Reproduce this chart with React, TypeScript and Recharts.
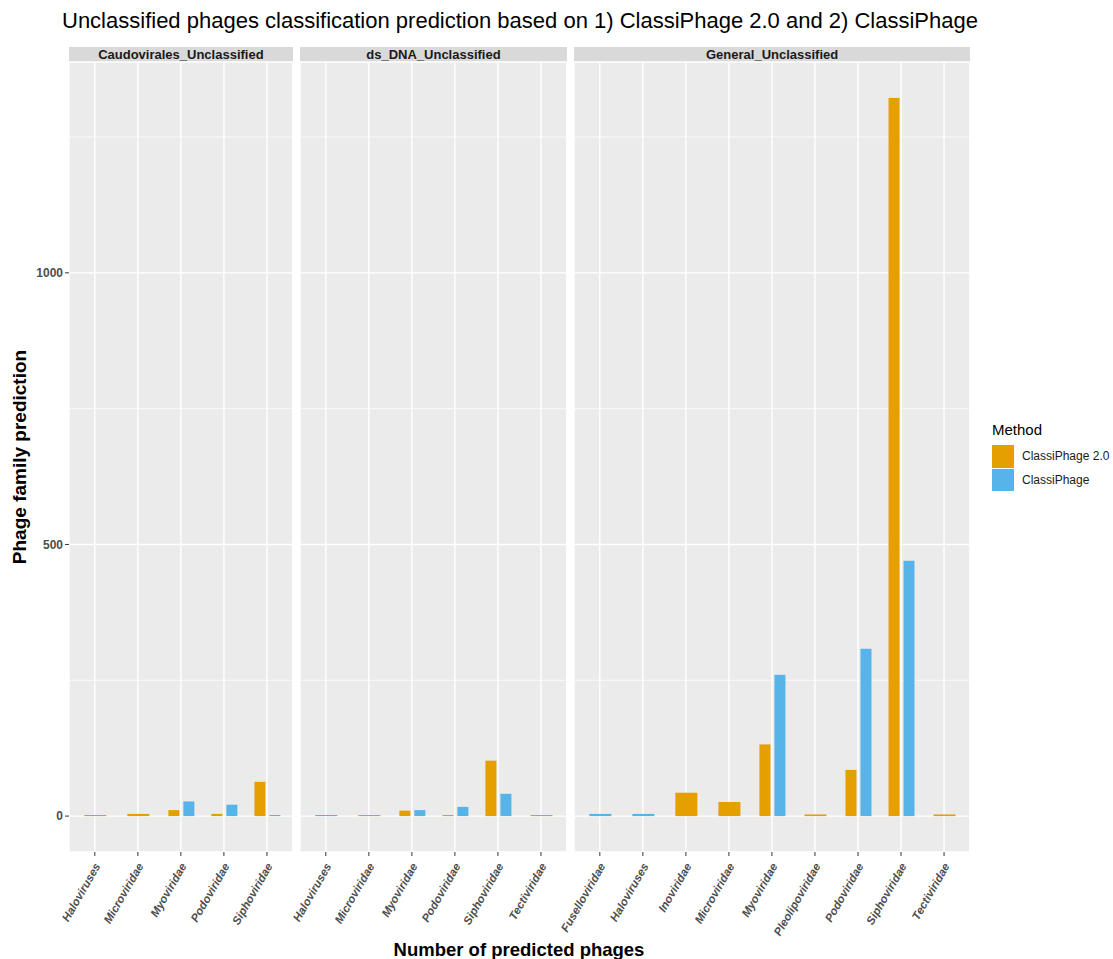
import React from 'react';
import { BarChart, Bar, XAxis, YAxis, CartesianGrid } from 'recharts';

const FONT = '"Liberation Sans", Arial, Helvetica, sans-serif';
const ORANGE = '#E69F00';
const BLUE = '#56B4E9';

// facet 1
const caudoCats = ['Haloviruses', 'Microviridae', 'Myoviridae', 'Podoviridae', 'Siphoviridae'];
const caudoV2 = [2, 4, 11, 4, 63];
const caudoV1 = [null, null, 27, 21, 2];

// facet 2
const dsCats = ['Haloviruses', 'Microviridae', 'Myoviridae', 'Podoviridae', 'Siphoviridae', 'Tectiviridae'];
const dsV2 = [null, 2, 10, 2, 102, 2];
const dsV1 = [2, null, 11, 17, 41, null];

// facet 3
const genCats = [
  'Fuselloviridae',
  'Haloviruses',
  'Inoviridae',
  'Microviridae',
  'Myoviridae',
  'Pleolipoviridae',
  'Podoviridae',
  'Siphoviridae',
  'Tectiviridae',
];
const genV2 = [null, null, 43, 26, 132, 3, 85, 1322, 3];
const genV1 = [4, 4, null, null, 260, null, 308, 470, null];

const facetNames = ['Caudovirales_Unclassified', 'ds_DNA_Unclassified', 'General_Unclassified'];
const yTicks = [0, 500, 1000];
const yMinor = [250, 750, 1250];
const Y_DOMAIN = [-66.1, 1388.1];

const UNIT = 43.03;
const PANEL_GAP = 7.33;
const PLOT_LEFT = 69;
const PLOT_TOP = 62;
const PLOT_H = 790;
const XAXIS_H = 100;
const BAR_W = 11;
const BAR_GAP = 4;

const facets = [
  { name: facetNames[0], cats: caudoCats, v2: caudoV2, v1: caudoV1 },
  { name: facetNames[1], cats: dsCats, v2: dsV2, v1: dsV1 },
  { name: facetNames[2], cats: genCats, v2: genV2, v1: genV1 },
];

// ggplot dodge: a lone bar takes the whole slot
const makeShape = (other: string, side: 'left' | 'right') => (props: any) => {
  const { x, y, width, height, payload, fill } = props;
  if (height == null || width == null) return null;
  let bx = x;
  let bw = width;
  if (payload[other] == null) {
    const center = side === 'left' ? x + width + BAR_GAP / 2 : x - BAR_GAP / 2;
    bx = center - width;
    bw = width * 2;
  }
  return <rect x={bx} y={y} width={bw} height={Math.max(height, 0)} fill={fill} />;
};

const XTick = (props: any) => {
  const { x, y, payload } = props;
  return (
    <g transform={`translate(${x + 6},${y + 8})`}>
      <text
        textAnchor="end"
        transform="rotate(-60)"
        fontSize={11.5}
        fontWeight="bold"
        fontStyle="italic"
        fill="#4D4D4D"
        fontFamily={FONT}
      >
        {payload.value}
      </text>
    </g>
  );
};

function Panel({ facet, left, showY }: { facet: any; left: number; showY: boolean }) {
  const width = (facet.cats.length + 0.2) * UNIT;
  const data = facet.cats.map((c: string, i: number) => ({
    name: c,
    v2: facet.v2[i],
    v1: facet.v1[i],
  }));
  const yW = showY ? PLOT_LEFT : 0;
  return (
    <>
      <div
        style={{
          position: 'absolute',
          left,
          top: 47,
          width,
          height: 15,
          background: '#D9D9D9',
          color: '#1A1A1A',
          fontFamily: FONT,
          fontWeight: 'bold',
          fontSize: 13,
          lineHeight: '15px',
          textAlign: 'center',
        }}
      >
        {facet.name}
      </div>
      <div style={{ position: 'absolute', left: left - yW, top: PLOT_TOP }}>
        <BarChart
          width={width + yW}
          height={PLOT_H + XAXIS_H}
          data={data}
          margin={{ top: 0, right: 0, bottom: 0, left: 0 }}
          barSize={BAR_W}
          barGap={BAR_GAP}
          style={{ overflow: 'visible' }}
        >
          <CartesianGrid
            fill="#EBEBEB"
            stroke="#FFFFFF"
            strokeWidth={0.7}
            vertical={false}
            horizontalValues={yMinor}
          />
          <CartesianGrid stroke="#FFFFFF" strokeWidth={1.4} />
          <XAxis
            dataKey="name"
            type="category"
            height={XAXIS_H}
            padding={{ left: UNIT * 0.1, right: UNIT * 0.1 }}
            axisLine={false}
            tickSize={4}
            tickMargin={2}
            tickLine={{ stroke: '#333333' }}
            tick={<XTick />}
            interval={0}
          />
          <YAxis
            type="number"
            domain={Y_DOMAIN}
            ticks={yTicks}
            allowDataOverflow
            hide={!showY}
            width={PLOT_LEFT}
            axisLine={false}
            tickSize={4}
            tickMargin={2}
            tickLine={{ stroke: '#333333' }}
            tick={{ fontSize: 12, fontWeight: 'bold', fill: '#4D4D4D', fontFamily: FONT }}
          />
          <Bar dataKey="v2" fill={ORANGE} isAnimationActive={false} shape={makeShape('v1', 'left')} />
          <Bar dataKey="v1" fill={BLUE} isAnimationActive={false} shape={makeShape('v2', 'right')} />
        </BarChart>
      </div>
    </>
  );
}

export default function App() {
  const lefts: number[] = [];
  let cur = PLOT_LEFT;
  facets.forEach((f) => {
    lefts.push(cur);
    cur += (f.cats.length + 0.2) * UNIT + PANEL_GAP;
  });
  return (
    <div style={{ position: 'relative', width: 1113, height: 959, background: '#fff', fontFamily: FONT, overflow: 'hidden' }}>
      <style>{'body{margin:0}.recharts-wrapper,.recharts-surface{overflow:visible !important}'}</style>
      <div
        style={{
          position: 'absolute',
          left: 62,
          top: 8,
          fontSize: 22,
          color: '#000',
          whiteSpace: 'nowrap',
        }}
      >
        Unclassified phages classification prediction based on 1) ClassiPhage 2.0 and 2) ClassiPhage
      </div>
      {facets.map((f, i) => (
        <Panel key={f.name} facet={f} left={lefts[i]} showY={i === 0} />
      ))}
      <div
        style={{
          position: 'absolute',
          left: 20,
          top: 457,
          transform: 'translate(-50%, -50%) rotate(-90deg)',
          fontSize: 19,
          fontWeight: 'bold',
          whiteSpace: 'nowrap',
        }}
      >
        Phage family prediction
      </div>
      <div
        style={{
          position: 'absolute',
          left: 519,
          top: 939,
          transform: 'translateX(-50%)',
          fontSize: 18.5,
          fontWeight: 'bold',
          whiteSpace: 'nowrap',
        }}
      >
        Number of predicted phages
      </div>
      <div style={{ position: 'absolute', left: 992, top: 421, fontSize: 15, color: '#000' }}>Method</div>
      <div style={{ position: 'absolute', left: 992, top: 445, width: 22, height: 23, background: ORANGE }} />
      <div style={{ position: 'absolute', left: 992, top: 469, width: 22, height: 22, background: BLUE }} />
      <div style={{ position: 'absolute', left: 1022, top: 449, fontSize: 12, color: '#1A1A1A', whiteSpace: 'nowrap' }}>ClassiPhage 2.0</div>
      <div style={{ position: 'absolute', left: 1022, top: 473, fontSize: 12, color: '#1A1A1A', whiteSpace: 'nowrap' }}>ClassiPhage</div>
    </div>
  );
}
